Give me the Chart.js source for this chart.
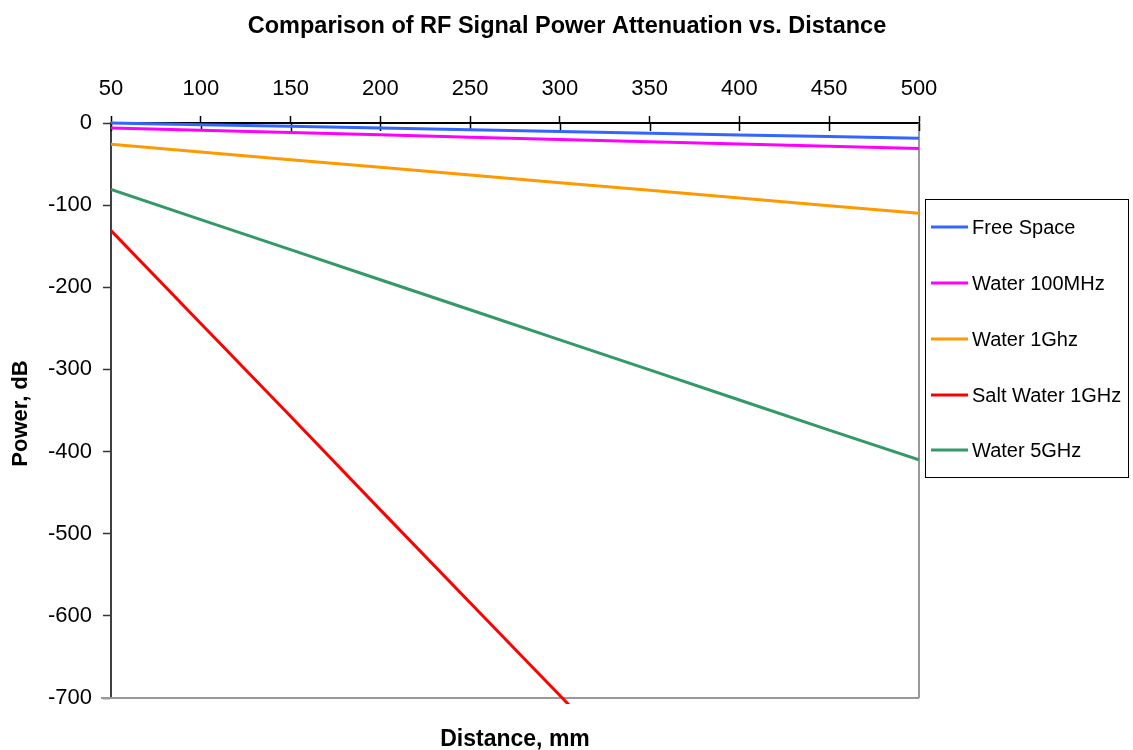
<!DOCTYPE html>
<html>
<head>
<meta charset="utf-8">
<title>RF Signal Power Attenuation</title>
<script src="https://cdn.jsdelivr.net/npm/chart.js@4/dist/chart.umd.min.js"></script>
<style>
  html, body { margin: 0; padding: 0; background: #ffffff; }
  #wrap { width: 1133px; height: 750px; position: relative; }
</style>
</head>
<body>
<div id="wrap"><canvas id="chart"></canvas></div>
<script>
// Distance in mm
const distances = [50, 100, 150, 200, 250, 300, 350, 400, 450, 500];

// Received power in dB for each medium
const freeSpace     = [0, -2.1, -4.1, -6.2, -8.3, -10.3, -12.4, -14.5, -16.5, -18.6];
const water100MHz   = [-6, -8.8, -11.6, -14.4, -17.2, -20, -22.8, -25.6, -28.4, -31];
const water1GHz     = [-26, -35.3, -44.7, -54, -63.3, -72.7, -82, -91.3, -100.7, -110];
const saltWater1GHz = [-131, -244, -357, -471, -584, -697, -810, -923, -1037, -1150];
const water5GHz     = [-81, -117.6, -154.2, -190.8, -227.4, -264, -300.6, -337.2, -373.8, -410];

const seriesNames  = ['Free Space', 'Water 100MHz', 'Water 1Ghz', 'Salt Water 1GHz', 'Water 5GHz'];
const seriesColors = ['#3366FF', '#FF00FF', '#FF9900', '#FF0000', '#339966'];
const seriesValues = [freeSpace, water100MHz, water1GHz, saltWater1GHz, water5GHz];

const chartTitle = 'Comparison of RF Signal Power Attenuation vs. Distance';
const xTitle = 'Distance, mm';
const yTitle = 'Power, dB';

const FONT = '"Liberation Sans", Arial, Helvetica, sans-serif';

const datasets = seriesNames.map((name, i) => ({
  label: name,
  data: distances.map((d, j) => ({ x: d, y: seriesValues[i][j] })),
  borderColor: seriesColors[i],
  backgroundColor: seriesColors[i],
  borderWidth: 3,
  pointRadius: 0,
  pointHoverRadius: 0,
  tension: 0,
  fill: false,
  clip: { left: 0, top: 2, right: 0, bottom: 6 }
}));

// Frame, inner tick marks, titles and legend box
const decorations = {
  id: 'decorations',
  beforeDatasetsDraw(chart) {
    const { ctx, chartArea: a } = chart;
    ctx.save();
    ctx.strokeStyle = '#999999';
    ctx.lineWidth = 2;
    ctx.beginPath();
    ctx.moveTo(a.right, a.top);
    ctx.lineTo(a.right, a.bottom);
    ctx.moveTo(a.left - 10, a.bottom);
    ctx.lineTo(a.right, a.bottom);
    ctx.stroke();

    // x tick marks reaching into the plot
    const xs = chart.scales.x;
    ctx.strokeStyle = '#000000';
    ctx.lineWidth = 1.5;
    ctx.beginPath();
    xs.ticks.forEach(t => {
      const px = Math.round(xs.getPixelForValue(t.value)) + 0.5;
      ctx.moveTo(px, a.top);
      ctx.lineTo(px, a.top + 8);
    });
    ctx.stroke();
    ctx.restore();
  },
  afterDraw(chart) {
    const { ctx, chartArea: a } = chart;
    ctx.save();
    ctx.fillStyle = '#000000';

    // main title
    ctx.font = 'bold 23.5px ' + FONT;
    ctx.textAlign = 'center';
    ctx.textBaseline = 'middle';
    ctx.fillText(chartTitle, 567, 27);

    // x axis title below the plot
    ctx.font = 'bold 23px ' + FONT;
    ctx.fillText(xTitle, (a.left + a.right) / 2, 740);

    // y axis title
    ctx.save();
    ctx.translate(21, (a.top + a.bottom) / 2 + 3);
    ctx.rotate(-Math.PI / 2);
    ctx.font = 'bold 22px ' + FONT;
    ctx.fillText(yTitle, 0, 0);
    ctx.restore();

    // legend
    const lx = 925, ly = 199, lw = 203, lh = 278;
    ctx.strokeStyle = '#000000';
    ctx.lineWidth = 1;
    ctx.strokeRect(lx + 0.5, ly + 0.5, lw, lh);
    const rowYs = [227, 283, 339, 395, 450];
    ctx.font = '20px ' + FONT;
    ctx.textAlign = 'left';
    ctx.textBaseline = 'middle';
    chart.data.datasets.forEach((ds, i) => {
      const y = rowYs[i];
      ctx.strokeStyle = ds.borderColor;
      ctx.lineWidth = 3;
      ctx.beginPath();
      ctx.moveTo(931, y);
      ctx.lineTo(968, y);
      ctx.stroke();
      ctx.fillStyle = '#000000';
      ctx.fillText(ds.label, 972, y + 1);
    });
    ctx.restore();
  }
};

new Chart(document.getElementById('chart'), {
  type: 'line',
  data: { datasets },
  options: {
    responsive: true,
    maintainAspectRatio: false,
    animation: false,
    events: [],
    layout: { padding: { left: 0, top: 0, right: 214, bottom: 52 } },
    plugins: {
      legend: { display: false },
      title: { display: false },
      tooltip: { enabled: false }
    },
    scales: {
      x: {
        type: 'linear',
        position: 'top',
        min: 50,
        max: 500,
        afterFit(scale) { scale.height = 123; },
        ticks: {
          stepSize: 50,
          color: '#000000',
          padding: 14,
          maxRotation: 0,
          font: { family: FONT, size: 22 }
        },
        grid: {
          drawOnChartArea: false,
          drawTicks: true,
          tickLength: 7,
          tickWidth: 1.5,
          tickColor: '#000000'
        },
        border: { display: true, color: '#000000', width: 2 }
      },
      y: {
        type: 'linear',
        min: -700,
        max: 0,
        afterFit(scale) { scale.width = 111; },
        ticks: {
          stepSize: 100,
          color: '#000000',
          padding: 11,
          font: { family: FONT, size: 22 }
        },
        grid: {
          drawOnChartArea: false,
          drawTicks: true,
          tickLength: 8,
          tickWidth: 1.5,
          tickColor: '#333333'
        },
        border: { display: true, color: '#404040', width: 2 }
      }
    }
  },
  plugins: [decorations]
});
</script>
</body>
</html>
